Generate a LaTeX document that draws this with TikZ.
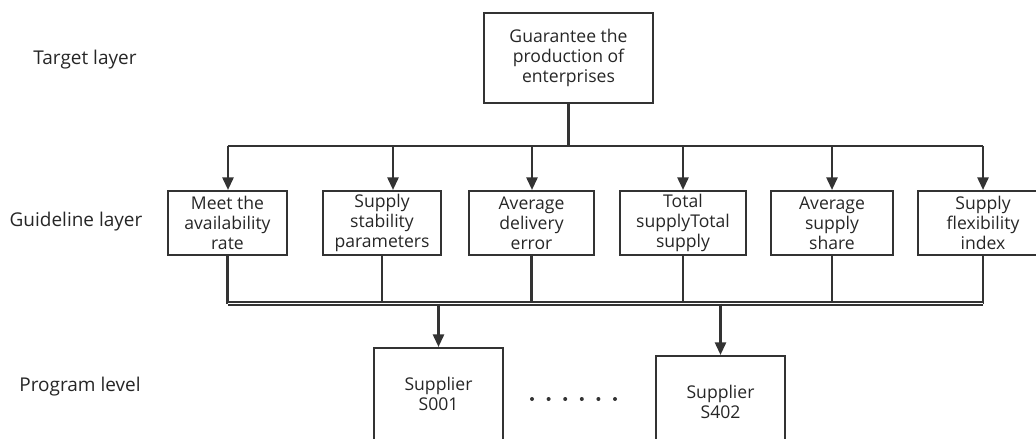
\documentclass[tikz,border=0pt]{standalone}
\usepackage{fontspec}
\setmainfont{Open Sans}
\usetikzlibrary{arrows.meta}
\begin{document}
\begin{tikzpicture}[x=0.025cm, y=-0.025cm, line width=1.5pt, color=black!80,
  every node/.style={font=\fontsize{12.5}{14.2}\selectfont, text=black!85, align=center},
  layer/.style={font=\fontsize{13.5}{16}\selectfont},
  box/.style={draw, inner sep=0pt},
  arr/.style={-{Triangle[length=9pt,width=8pt]}}]
  \useasboundingbox (0,0) rectangle (1036,439);

  % layer names
  \node[layer] (tl) at (85,60) {Target layer};
  \node[layer] (gl) at (76,222) {Guideline layer};
  \node[layer] (pl) at (80,387) {Program level};

  % target layer
  \node[box, minimum width=4.225cm, minimum height=2.25cm] (top) at (568.5,58)
    {Guarantee the\\production of\\enterprises};
  \coordinate (busT) at (0,146);
  \draw (top.south) -- (top.south |- busT);

  % guideline layer
  \foreach \n/\x/\w/\lab in {1/227.5/2.975cm/{Meet the\\availability\\rate},
      2/382/2.95cm/{Supply\\stability\\parameters},
      3/531.5/3.125cm/{Average\\delivery\\error},
      4/683/3.15cm/{Total\\supplyTotal\\supply},
      5/832/3.05cm/{Average\\supply\\share},
      6/983/3.25cm/{Supply\\flexibility\\index}} {
    \node[box, minimum width=\w, minimum height=1.6cm] (g\n) at (\x,223) {\lab};
  }
  \draw (g1.north |- busT) -- (g6.north |- busT);
  \foreach \n/\x in {1/228,2/393,3/532,4/683,5/832,6/983} {
    \draw[arr] (\x,146 |- busT) -- (\x,146 |- g\n.north);
  }

  % program level
  \coordinate (busB) at (0,303.5);
  \foreach \n in {1,...,6} {
    \draw (g\n.south) -- (g\n.south |- busB);
  }
  \draw[line width=0.9pt, double, double distance=1.3pt] (g1.south |- busB) -- (g6.south |- busB);
  \node[box, minimum width=3.225cm, minimum height=2.3cm] (s1) at (438.5,394) {Supplier\\S001};
  \node[box, minimum width=3.225cm, minimum height=2.3cm] (s2) at (720.5,402) {Supplier\\S402};
  \draw[arr] (s1.north |- busB) -- (s1.north);
  \draw[arr] (s2.north |- busB) -- (s2.north);
  \foreach \i in {0,...,5} {
    \fill (532+\i*16.6,399) circle (2);
  }
\end{tikzpicture}
\end{document}
